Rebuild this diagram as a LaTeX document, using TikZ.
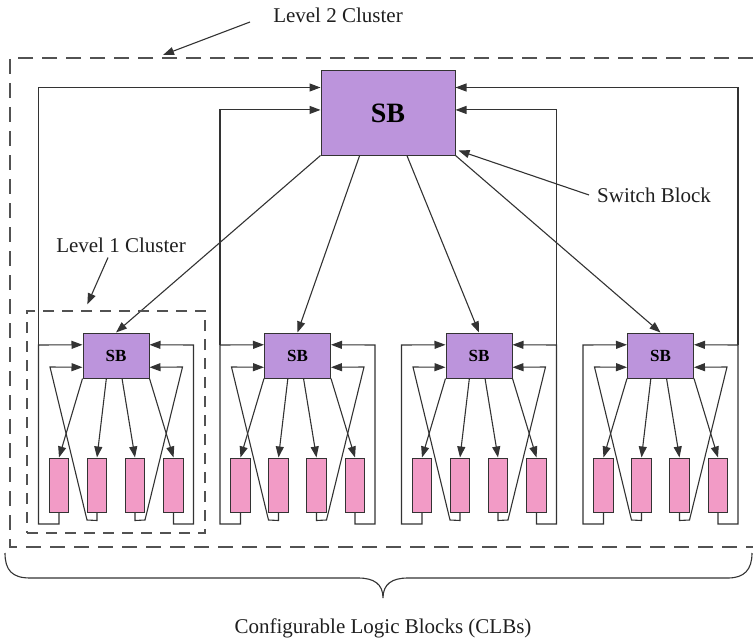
\documentclass[tikz,border=0pt]{standalone}
\usepackage{fontspec}
\setmainfont{Liberation Serif}
\usetikzlibrary{arrows.meta,calc}
\definecolor{sbfill}{HTML}{BC94DC}
\definecolor{clbfill}{HTML}{F29BC6}
\definecolor{edge}{HTML}{333333}
\tikzset{
  sbbox/.style={draw=edge, fill=sbfill, line width=1pt, inner sep=0pt},
  clbbox/.style={draw=edge, fill=clbfill, line width=1pt, minimum width=19.5pt, minimum height=54pt, inner sep=0pt},
  wire/.style={draw=edge, line width=1.1pt},
  arr/.style={wire, -{Triangle[length=11pt,width=8pt]}},
  dashtwo/.style={draw=edge!85, line width=1.2pt, dash pattern=on 15pt off 9pt},
  dashone/.style={draw=edge!85, line width=1.2pt, dash pattern=on 11pt off 8pt},
  lbl/.style={font=\fontsize{21}{24}\selectfont, text=black!88, inner sep=0pt}
}
\begin{document}
\begin{tikzpicture}[x=1pt,y=-1pt]
\useasboundingbox (0,0) rectangle (753,642);

% Level 2 cluster (open on the right)
\draw[dashtwo] (753,58) -- (10,58) -- (10,547) -- (753,547);

% big switch block
\node[sbbox, minimum width=134pt, minimum height=84pt, font=\bfseries\fontsize{28}{30}\selectfont] (SB) at (388,113) {SB};

% clusters
\foreach \k in {0,1,2,3} {
  \pgfmathsetmacro\dx{\k*181.5}
  \begin{scope}[xshift=\dx]
    \node[sbbox, minimum width=66pt, minimum height=45pt, font=\bfseries\fontsize{17}{19}\selectfont] (sb\k) at (116,355.5) {SB};
    \node[clbbox] (c\k1) at (59,485) {};
    \node[clbbox] (c\k2) at (97,485) {};
    \node[clbbox] (c\k3) at (135,485) {};
    \node[clbbox] (c\k4) at (173.5,485) {};
    \coordinate (lo\k) at (38.5,345);
    \coordinate (ro\k) at (193.5,345);
    % down arrows
    \draw[arr] (sb\k.south west) -- (c\k1.north);
    \draw[arr] ($(sb\k.south west)!0.356!(sb\k.south east)$) -- (c\k2.north);
    \draw[arr] ($(sb\k.south west)!0.59!(sb\k.south east)$) -- (c\k3.north);
    \draw[arr] (sb\k.south east) -- (c\k4.north);
    % feedback loops
    \draw[arr] (c\k1.south) |- (38.5,524) -- (lo\k) -- ($(sb\k.north west)!0.267!(sb\k.south west)$);
    \draw[arr] (c\k2.south) -- ++(0,8) -- (87,520) -- (50,367) -- ($(sb\k.north west)!0.756!(sb\k.south west)$);
    \draw[arr] (c\k4.south) |- (193.5,524) -- (ro\k) -- ($(sb\k.north east)!0.267!(sb\k.south east)$);
    \draw[arr] (c\k3.south) -- ++(0,8) -- (145,520) -- (182.5,367) -- ($(sb\k.north east)!0.756!(sb\k.south east)$);
  \end{scope}
}

% big SB to small SBs
\draw[arr] (SB.south west) -- (sb0.north);
\draw[arr] ($(SB.south west)!0.29!(SB.south east)$) -- (sb1.north);
\draw[arr] ($(SB.south west)!0.64!(SB.south east)$) -- (sb2.north);
\draw[arr] (SB.south east) -- (sb3.north);

% loops to big SB
\draw[arr] (lo0) |- ($(SB.north west)!0.2!(SB.south west)$);
\draw[arr] (lo1) |- ($(SB.north west)!0.464!(SB.south west)$);
\draw[arr] (ro2) |- ($(SB.north east)!0.464!(SB.south east)$);
\draw[arr] (ro3) |- ($(SB.north east)!0.2!(SB.south east)$);

% Level 1 cluster
\node[dashone, minimum width=178pt, minimum height=222pt, inner sep=0pt] (L1) at (116,422) {};

% labels
\node[lbl] (l2) at (338,15) {Level 2 Cluster};
\coordinate (l2tip) at (163,55);
\draw[arr] (250,22) -- (l2tip);

\node[lbl] (l1) at (121,245) {Level 1 Cluster};
\draw[arr] ($(l1.south)+(-13,5)$) -- ($(L1.north west)!0.34!(L1.north east)+(0,-6)$);

\node[lbl, anchor=west] (swl) at (597,195) {Switch Block};
\draw[arr] ([xshift=-8pt]swl.west) -- ([shift={(3,-5)}]SB.south east);

% brace
\draw[wire] (5,553) .. controls (5,570) and (12,578) .. (30,578) -- (358,578)
  .. controls (374,578) and (383,584) .. (383,598)
  .. controls (383,584) and (392,578) .. (408,578) -- (728,578)
  .. controls (744,578) and (752,570) .. (752,553);
\node[lbl] (clbl) at (383,628) {Configurable Logic Blocks (CLBs)};
\end{tikzpicture}
\end{document}
